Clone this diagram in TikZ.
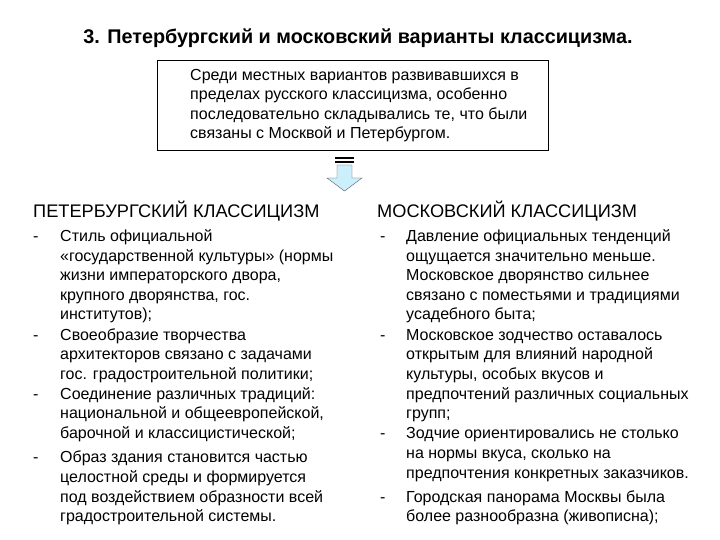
\documentclass[tikz,border=0pt]{standalone}
\usepackage{fontspec}
\setmainfont{Liberation Sans}
\begin{document}
\begin{tikzpicture}[x=1pt,y=-1pt,
  tx/.style={anchor=base west,inner sep=0pt,font=\fontsize{16}{18}\selectfont},
  hd/.style={anchor=base west,inner sep=0pt,font=\fontsize{18.2}{20}\selectfont}]
\useasboundingbox (0,0) rectangle (720,540);
\node[anchor=base,inner sep=0pt,font=\fontsize{19.8}{22}\selectfont\bfseries] (title) at (358,44) {3. Петербургский и московский варианты классицизма.};
\node[draw,thick,minimum width=391,minimum height=90,anchor=north west,inner sep=0pt] (box) at (157,60) {};
\foreach \t [count=\i] in {Среди местных вариантов развивавшихся в,пределах русского классицизма{,} особенно,последовательно складывались те{,} что были,связаны с Москвой и Петербургом.}
  \node[tx] (b\i) at (190,61+19.5*\i) {\t};
% arrow
\fill[black] (335,157) rectangle (354,159);
\fill[black] (335,161) rectangle (354,163);
\draw[fill=cyan!20,draw=gray!70!black] (337,165) -- (352,165) -- (352,178) -- (362,178) -- (344.5,191) -- (327,178) -- (337,178) -- cycle;
\node[hd] (hl) at (33,218) {ПЕТЕРБУРГСКИЙ КЛАССИЦИЗМ};
\node[hd] (hr) at (377,218) {МОСКОВСКИЙ КЛАССИЦИЗМ};
\foreach \y in {236,335,394,457} \node[tx] at (33,\y+5) {-};
\foreach \y in {236,335,433,497} \node[tx] at (380,\y+5) {-};
\foreach \y/\t in {236/Стиль официальной,256/«государственной культуры» (нормы,275/жизни императорского двора{,},295/крупного дворянства{,} гос.,314/институтов);,335/Своеобразие творчества,354/архитекторов связано с задачами,374/гос. градостроительной политики;,394/Соединение различных традиций:,413/национальной и общеевропейской{,},433/барочной и классицистической;,457/Образ здания становится частью,477/целостной среды и формируется,497/под воздействием образности всей,516/градостроительной системы.}
  \node[tx] at (60,\y+5) {\t};
\foreach \y/\t in {236/Давление официальных тенденций,256/ощущается значительно меньше.,275/Московское дворянство сильнее,295/связано с поместьями и традициями,314/усадебного быта;,335/Московское зодчество оставалось,354/открытым для влияний народной,374/культуры{,} особых вкусов и,394/предпочтений различных социальных,413/групп;,433/Зодчие ориентировались не столько,453/на нормы вкуса{,} сколько на,473/предпочтения конкретных заказчиков.,497/Городская панорама Москвы была,516/более разнообразна (живописна);}
  \node[tx] at (406,\y+5) {\t};
\end{tikzpicture}
\end{document}
